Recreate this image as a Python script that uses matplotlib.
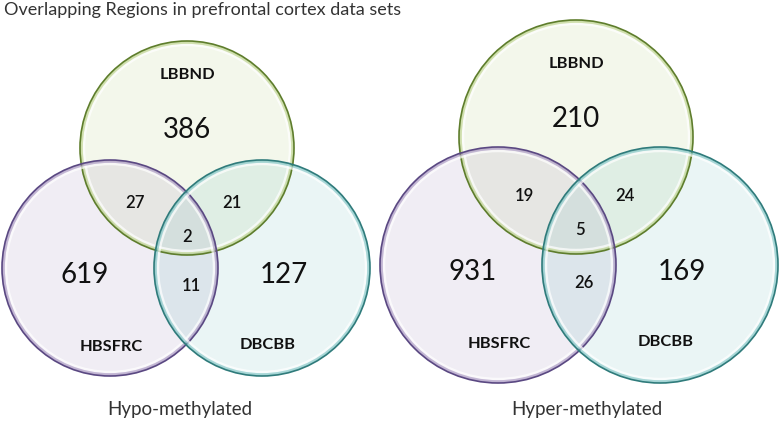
import matplotlib.pyplot as plt
from matplotlib.patches import Circle

plt.rcParams['font.family'] = ['Lato', 'DejaVu Sans']

title = "Overlapping Regions in prefrontal cortex data sets"
set_names = ["LBBND", "HBSFRC", "DBCBB"]
panel_titles = ["Hypo-methylated", "Hyper-methylated"]

# region counts: only LBBND, only HBSFRC, only DBCBB, L&H, L&D, H&D, all three
hypo_counts = [386, 619, 127, 27, 21, 11, 2]
hyper_counts = [210, 931, 169, 19, 24, 26, 5]

# circle layout in pixel space (centre x, centre y, radius) for each panel
layouts = [
    [(187, 148, 107), (110, 268, 108), (262, 268, 108)],
    [(576, 137, 117), (498, 265, 118), (660, 265, 118)],
]
caption_x = [180, 587]
fills = ["#a9c66a", "#9079b0", "#5db5b5"]
edges = ["#5e7d2c", "#5a4882", "#2f7b7b"]

fig = plt.figure(figsize=(7.79, 4.22), dpi=100)
ax = fig.add_axes([0, 0, 1, 1])
ax.set_xlim(0, 779)
ax.set_ylim(422, 0)
ax.set_aspect('equal')
ax.axis('off')

ax.text(4, 10, title, fontsize=13, color="#333333", va='center', ha='left')


def draw_venn(circles, counts, label, lx):
    (xa, ya, ra), (xb, yb, rb), (xc, yc, rc) = circles
    for (x, y, r), fc in zip(circles, fills):
        ax.add_patch(Circle((x, y), r, facecolor=fc, alpha=0.13, lw=0))
    for (x, y, r), fc, ec in zip(circles, fills, edges):
        ax.add_patch(Circle((x, y), r - 3.5, fill=False, ec="white", lw=2.5, alpha=0.7))
        ax.add_patch(Circle((x, y), r - 1.5, fill=False, ec=fc, lw=2, alpha=0.5))
        ax.add_patch(Circle((x, y), r, fill=False, ec=ec, lw=1.2))

    big = dict(fontsize=20, color="#111111", ha='center', va='center')
    small = dict(fontsize=12, color="#111111", ha='center', va='center', fontweight='semibold')
    bold = dict(fontsize=11.8, color="#111111", ha='center', va='center', fontweight='bold')

    ax.text(xa, ya - 73, set_names[0], **bold)
    ax.text(xa, ya - 18, str(counts[0]), **big)
    ax.text(xb - 25, yb + 7, str(counts[1]), **big)
    ax.text(xc + 22, yc + 7, str(counts[2]), **big)
    ax.text(xb + 1, yb + 79, set_names[1], **bold)
    ax.text(xc + 6, yc + 77, set_names[2], **bold)

    ax.text((xa + xb) / 2 - 13, (ya + yb) / 2 - 5, str(counts[3]), **small)
    ax.text((xa + xc) / 2 + 7, (ya + yc) / 2 - 5, str(counts[4]), **small)
    ax.text((xb + xc) / 2 + 5, yb + 18, str(counts[5]), **small)
    ax.text((xb + xc) / 2 + 1, (ya + yb) / 2 + 29, str(counts[6]), **small)

    ax.text(lx, 410, label, fontsize=13.5, color="#333333", ha='center', va='center')


for circles, counts, label, lx in zip(layouts, [hypo_counts, hyper_counts],
                                      panel_titles, caption_x):
    draw_venn(circles, counts, label, lx)

fig.savefig("out.png", dpi=100, facecolor="white")
